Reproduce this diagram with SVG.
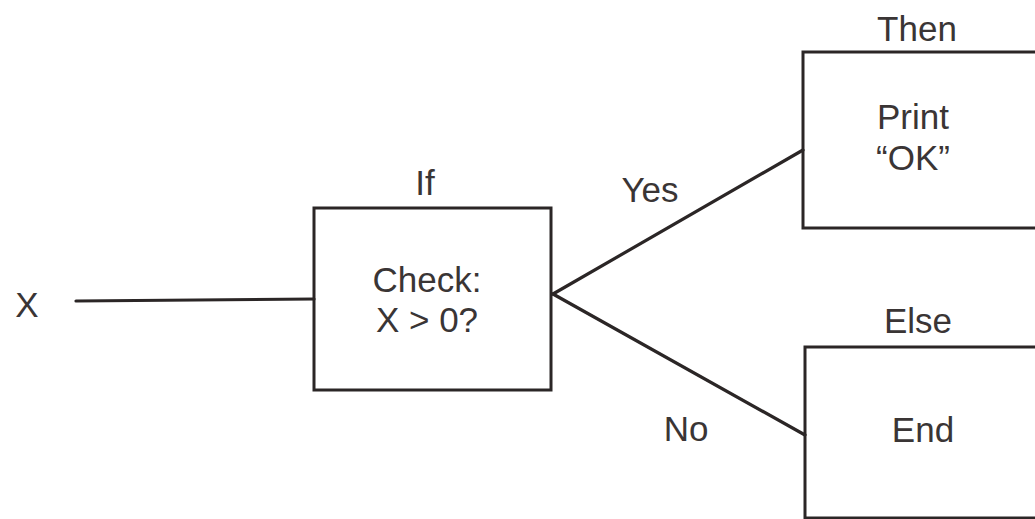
<svg xmlns="http://www.w3.org/2000/svg" width="1035" height="519" viewBox="0 0 1035 519">
<style>
.box{fill:none;stroke:#2b2626;stroke-width:3}
.ln{stroke:#2b2626;stroke-width:3.2;fill:none;stroke-linecap:round}
text{font-family:"Liberation Sans",Arial,sans-serif;font-size:35px;fill:#3a3535;text-anchor:middle}
</style>
<rect width="1035" height="519" fill="#ffffff"/>
<g id="input">
<text x="27" y="317">X</text>
</g>
<g id="if">
<text x="425" y="195">If</text>
<rect class="box" x="314" y="208" width="237" height="182"/>
<text x="427" y="292">Check:</text>
<text x="427" y="332">X &gt; 0?</text>
</g>
<g id="then">
<text x="917" y="41">Then</text>
<rect class="box" x="803" y="52" width="240" height="176"/>
<text x="913" y="129">Print</text>
<text x="913" y="170">“OK”</text>
</g>
<g id="else">
<text x="918" y="333">Else</text>
<rect class="box" x="805" y="347" width="240" height="171"/>
<text x="923" y="442">End</text>
</g>
<g id="connectors">
<line class="ln" x1="76" y1="301" x2="314" y2="299"/>
<line class="ln" x1="553" y1="294" x2="803" y2="150"/>
<line class="ln" x1="553" y1="294" x2="805" y2="435"/>
<text x="650" y="202">Yes</text>
<text x="686" y="441">No</text>
</g>
</svg>
